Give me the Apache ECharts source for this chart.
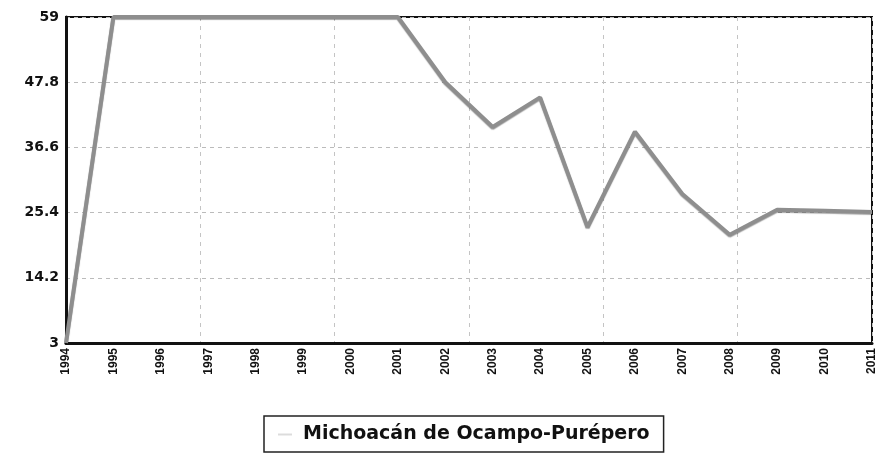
<!DOCTYPE html>
<html>
<head>
<meta charset="utf-8">
<script src="https://cdn.jsdelivr.net/npm/echarts@6/dist/echarts.min.js"></script>
<style>
html,body{margin:0;padding:0;background:#fff;}
#c{width:878px;height:457px;}
</style>
</head>
<body>
<div id="c"></div>
<script>
var years = ['1994','1995','1996','1997','1998','1999','2000','2001','2002','2003','2004','2005','2006','2007','2008','2009','2010','2011'];
var values = [3, 59, 59, 59, 59, 59, 59, 59, 47.8, 40.1, 45.2, 22.9, 39.3, 28.6, 21.6, 25.9, 25.7, 25.5];
var seriesName = 'Michoacán de Ocampo-Purépero';
var yMin = 3, yMax = 59, yStep = 11.2;

var chart = echarts.init(document.getElementById('c'));
var font = 'DejaVu Sans';
chart.setOption({
  backgroundColor: '#ffffff',
  animation: false,
  grid: {left: 66, right: 5, top: 17, bottom: 114, show: true, borderColor: '#111', borderWidth: 2, backgroundColor: 'transparent'},
  legend: {
    data: [seriesName],
    top: 416,
    left: 264,
    padding: [9, 14, 8, 14],
    borderColor: '#222',
    borderWidth: 1.5,
    borderRadius: 0,
    itemWidth: 14,
    itemHeight: 2,
    itemGap: 10,
    textStyle: {fontFamily: font, fontWeight: 'bold', fontSize: 19, color: '#111', padding: [0, 0, 0, 6]},
    icon: 'rect',
    itemStyle: {color: '#dcdcdc'}
  },
  xAxis: [{
    type: 'category',
    data: years,
    boundaryGap: false,
    axisLine: {show: true, lineStyle: {color: '#111', width: 3}},
    axisTick: {show: false},
    axisLabel: {rotate: 90, fontFamily: 'Liberation Sans', fontWeight: 'bold', fontSize: 12, color: '#111', margin: 5, interval: 0},
    splitLine: {show: false}
  }, {
    type: 'value',
    min: 0, max: 6, interval: 1,
    position: 'bottom',
    show: true,
    axisLine: {show: false},
    axisTick: {show: false},
    axisLabel: {show: false},
    splitLine: {show: true, lineStyle: {color: '#c4c4c4', type: [4, 5], width: 1}}
  }],
  yAxis: {
    type: 'value',
    min: yMin, max: yMax, interval: yStep,
    axisLine: {show: true, lineStyle: {color: '#111', width: 3}},
    axisTick: {show: false},
    axisLabel: {fontFamily: font, fontWeight: 'bold', fontSize: 14, color: '#111', margin: 7,
      formatter: function(v){ return (Math.round(v*10)/10).toString(); }},
    splitLine: {show: true, lineStyle: {color: '#bbb', type: [4, 4], width: 1}}
  },
  series: [{
    name: seriesName,
    type: 'line',
    xAxisIndex: 0,
    data: values,
    symbol: 'none',
    lineStyle: {color: '#8e8e8e', width: 4, shadowColor: 'rgba(0,0,0,0.35)', shadowBlur: 1, shadowOffsetY: 1},
    itemStyle: {color: '#dcdcdc'}
  }]
});
</script>
</body>
</html>
